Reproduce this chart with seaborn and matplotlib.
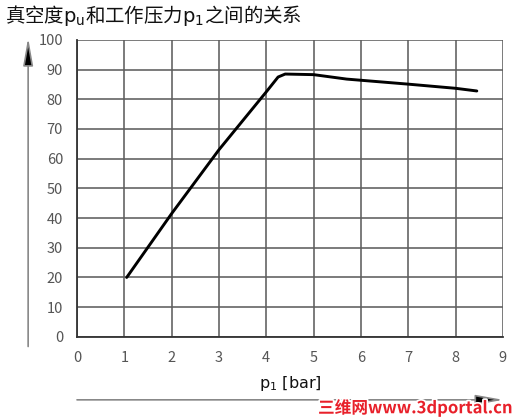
import matplotlib
matplotlib.use("Agg")
import matplotlib.pyplot as plt
import matplotlib.patheffects as pe
import pandas as pd
import seaborn as sns

sns.set_theme(style="white")
plt.rcParams["font.family"] = ["Noto Sans CJK SC", "DejaVu Sans"]
plt.rcParams["mathtext.fontset"] = "dejavusans"

# data
p1_bar = [1.05, 2.0, 3.0, 4.0, 4.25, 4.4, 5.0, 5.7, 7.0, 8.0, 8.45]
vacuum_pct = [20, 41.5, 63, 82.5, 87.5, 88.5, 88.3, 86.8, 85.1, 83.7, 82.8]
x_ticks = list(range(0, 10))
y_ticks = list(range(0, 101, 10))

df = pd.DataFrame({"p1": p1_bar, "pu": vacuum_pct})

fig = plt.figure(figsize=(5.31, 4.2), dpi=100)
ax = fig.add_axes([0.145, 0.198, 0.802, 0.707])

sns.lineplot(data=df, x="p1", y="pu", color="black", linewidth=2.1, ax=ax, sort=False)

ax.set_xlim(0, 9)
ax.set_ylim(0, 100)
ax.set_xticks(x_ticks)
ax.set_yticks(y_ticks)
ax.grid(True, color="#5e5e5e", linewidth=1.15)
for side in ["top", "right"]:
    ax.spines[side].set_visible(False)
for side in ["left", "bottom"]:
    ax.spines[side].set_color("#333333")
    ax.spines[side].set_linewidth(1.3)
ax.tick_params(axis="both", direction="out", length=7, width=1.0, color="#444444",
               labelsize=10.5, labelcolor="#555555", pad=3)
ax.tick_params(axis="x", length=6, pad=4)
ax.set_xlabel("")
ax.set_ylabel("")

# title
fig.text(0.01, 0.964, "真空度$\\mathrm{p_u}$和工作压力$\\mathrm{p_1}$之间的关系",
         fontsize=14, color="#111111", ha="left", va="center")

# x label
fig.text(0.547, 0.088, "$\\mathrm{p_1}$ [bar]", fontsize=11.5, color="#111111",
         ha="center", va="center", family="DejaVu Sans")

# axis arrows
arrow = dict(arrowstyle="-|>,head_length=1.4,head_width=0.25",
             lw=1.2, shrinkA=0, shrinkB=0, fc="black", ec="#888888")
ax.annotate("", xy=(0.053, 0.91), xytext=(0.053, 0.175),
            xycoords="figure fraction", arrowprops=arrow)
ax.annotate("", xy=(0.948, 0.048), xytext=(0.145, 0.048),
            xycoords="figure fraction", arrowprops=arrow)

# watermark
fig.text(0.965, 0.028, "三维网www.3dportal.cn", fontsize=12, color="#e8202a",
         ha="right", va="center", weight="bold",
         path_effects=[pe.withStroke(linewidth=2.5, foreground="white")])

fig.savefig("out.png", dpi=100)
